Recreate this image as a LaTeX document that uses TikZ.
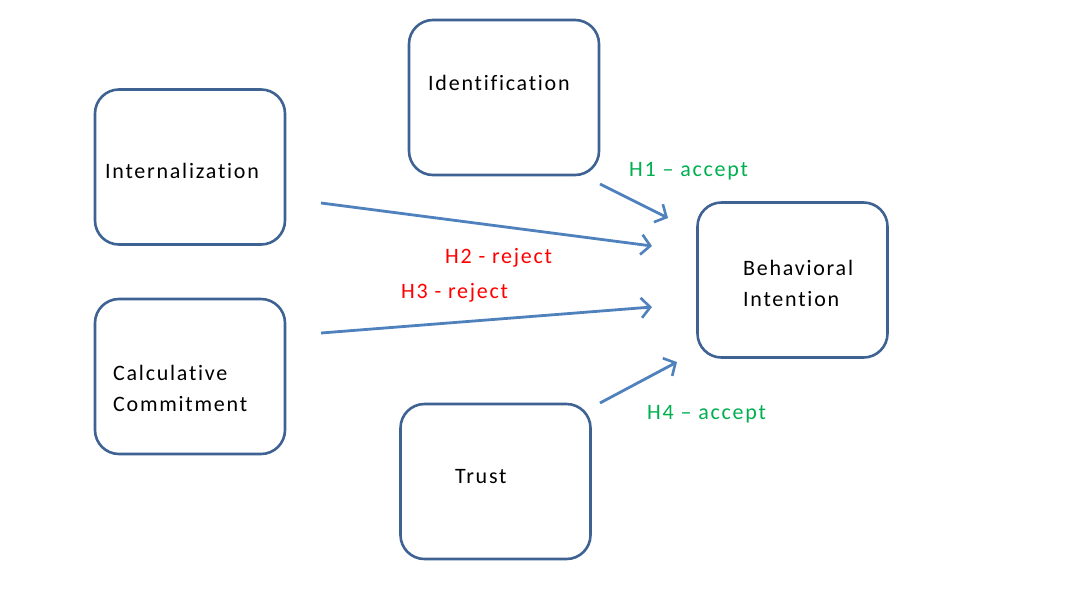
\documentclass[tikz,border=0pt]{standalone}
\usepackage{fontspec}
\setmainfont{Carlito}[LetterSpace=8, Ligatures={NoCommon}]
\usetikzlibrary{arrows.meta}
\definecolor{boxline}{RGB}{62,98,146}
\definecolor{arrowblue}{RGB}{79,129,189}
\definecolor{okgreen}{RGB}{0,176,80}
\definecolor{badred}{RGB}{255,0,0}
\tikzset{
  concept/.style={draw=boxline, line width=2.6pt, rounded corners=24pt, fill=white,
    minimum width=190pt, minimum height=155pt, inner sep=0pt},
  caption/.style={font=\fontsize{22}{31}\selectfont, text=black, inner sep=0pt, align=left},
  hyp/.style={font=\fontsize{22}{25}\selectfont, inner sep=0pt},
  link/.style={draw=arrowblue, line width=2.8pt,
    -{Straight Barb[length=9pt, width=20pt, line width=2.6pt]}},
}
\begin{document}
\begin{tikzpicture}[x=1pt, y=-1pt]
  \useasboundingbox[fill=white] (0,0) rectangle (1075,592);

  % concept boxes
  \node[concept] (intern) at (190,167) {};
  \node[concept] (calc)   at (190,376.5) {};
  \node[concept] (ident)  at (504,97.5) {};
  \node[concept] (trust)  at (495.5,481.5) {};
  \node[concept] (behav)  at (792.5,280) {};

  % box captions
  \node[caption, anchor=west] (internT) at (105,171) {Internalization};
  \node[caption, anchor=west] (calcT)   at (113,388) {Calculative\\Commitment};
  \node[caption, anchor=west] (identT)  at (428,83) {Identification};
  \node[caption, anchor=west] (trustT)  at (455,477) {Trust};
  \node[caption, anchor=west] (behavT)  at (743,283) {Behavioral\\Intention};

  % arrow end points
  \coordinate (s1) at (600,184);  \coordinate (e1) at (668,218);
  \coordinate (s2) at (321,203);  \coordinate (e2) at (652,246);
  \coordinate (s3) at (321,333);  \coordinate (e3) at (652,307);
  \coordinate (s4) at (600,403);  \coordinate (e4) at (677,362);

  \draw[link] (s1) -- (e1);
  \draw[link] (s2) -- (e2);
  \draw[link] (s3) -- (e3);
  \draw[link] (s4) -- (e4);

  % hypothesis results
  \node[hyp, text=okgreen, anchor=west] (h1) at (629,171) {H1 – accept};
  \node[hyp, text=badred,  anchor=west] (h2) at (445,258) {H2 - reject};
  \node[hyp, text=badred,  anchor=west] (h3) at (401,293) {H3 - reject};
  \node[hyp, text=okgreen, anchor=west] (h4) at (647,414) {H4 – accept};
\end{tikzpicture}
\end{document}
